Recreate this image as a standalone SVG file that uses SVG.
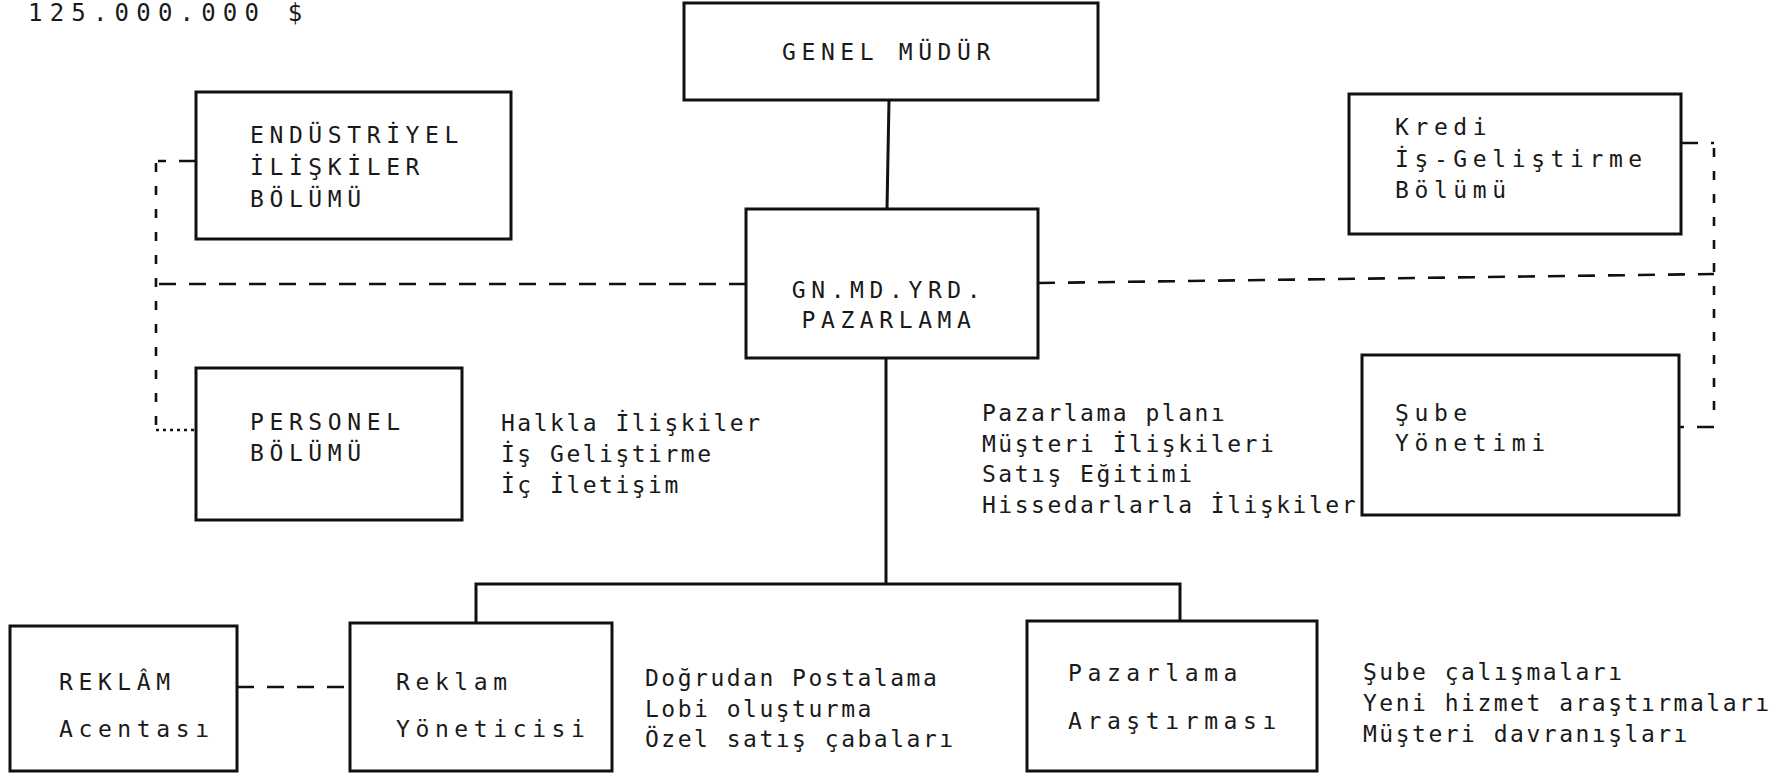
<svg xmlns="http://www.w3.org/2000/svg" width="1784" height="774" viewBox="0 0 1784 774">
<style>
  .box { fill: #ffffff; stroke: #111111; stroke-width: 3; }
  .lbl { font-family: "DejaVu Sans Mono", "Liberation Mono", monospace; font-size: 23px; letter-spacing: 5.6px; fill: #1a1a1a; }
  .note { font-family: "DejaVu Sans Mono", "Liberation Mono", monospace; font-size: 23px; letter-spacing: 2.5px; fill: #1a1a1a; }
  .title { font-family: "DejaVu Sans Mono", "Liberation Mono", monospace; font-size: 24px; letter-spacing: 7.2px; fill: #1a1a1a; }
  .solid { fill: none; stroke: #111111; stroke-width: 3; }
  .dash { fill: none; stroke: #111111; stroke-width: 2.6; stroke-dasharray: 17 13; }
  .vdash { fill: none; stroke: #111111; stroke-width: 2.6; stroke-dasharray: 9 14; }
  .dot { fill: none; stroke: #111111; stroke-width: 2.6; stroke-dasharray: 3 4; }
</style>
<rect width="1784" height="774" fill="#ffffff"/>

<text class="title" x="28" y="21">125.000.000 $</text>

<g id="connectors">
  <path class="solid" d="M889,100 L887,209"/>
  <path class="solid" d="M886,358 V584"/>
  <path class="solid" d="M476,623 V584 H1180 V621"/>
  <path class="dash" d="M746,284 H156"/>
  <path class="dash" d="M196,161 H158"/>
  <path class="vdash" d="M156,163 V428"/>
  <path class="dot" d="M156,430 H196"/>
  <path class="dash" d="M1038,283 L1714,274"/>
  <path class="dash" d="M1681,143 H1714"/>
  <path class="vdash" d="M1714,148 V424"/>
  <path class="dash" d="M1714,427 H1679"/>
  <path class="dash" d="M237,687 H350"/>
</g>

<g id="genel-mudur">
  <rect class="box" x="684" y="3" width="414" height="97"/>
  <text class="lbl" x="889" y="60" text-anchor="middle">GENEL MÜDÜR</text>
</g>

<g id="gn-md-yrd">
  <rect class="box" x="746" y="209" width="292" height="149"/>
  <text class="lbl" x="889" y="298" text-anchor="middle">GN.MD.YRD.</text>
  <text class="lbl" x="889" y="328" text-anchor="middle">PAZARLAMA</text>
</g>

<g id="endustriyel">
  <rect class="box" x="196" y="92" width="315" height="147"/>
  <text class="lbl" x="250" y="143">ENDÜSTRİYEL</text>
  <text class="lbl" x="250" y="175">İLİŞKİLER</text>
  <text class="lbl" x="250" y="207">BÖLÜMÜ</text>
</g>

<g id="personel">
  <rect class="box" x="196" y="368" width="266" height="152"/>
  <text class="lbl" x="250" y="430">PERSONEL</text>
  <text class="lbl" x="250" y="461">BÖLÜMÜ</text>
</g>

<g id="halkla-notes">
  <text class="note" x="501" y="431">Halkla İlişkiler</text>
  <text class="note" x="501" y="462">İş Geliştirme</text>
  <text class="note" x="501" y="493">İç İletişim</text>
</g>

<g id="kredi">
  <rect class="box" x="1349" y="94" width="332" height="140"/>
  <text class="lbl" x="1395" y="135">Kredi</text>
  <text class="lbl" x="1395" y="167">İş-Geliştirme</text>
  <text class="lbl" x="1395" y="198">Bölümü</text>
</g>

<g id="sube-yonetimi">
  <rect class="box" x="1362" y="355" width="317" height="160"/>
  <text class="lbl" x="1395" y="421">Şube</text>
  <text class="lbl" x="1395" y="451">Yönetimi</text>
</g>

<g id="pazarlama-notes">
  <text class="note" x="982" y="421">Pazarlama planı</text>
  <text class="note" x="982" y="452">Müşteri İlişkileri</text>
  <text class="note" x="982" y="482">Satış Eğitimi</text>
  <text class="note" x="982" y="513">Hissedarlarla İlişkiler</text>
</g>

<g id="reklam-acentasi">
  <rect class="box" x="10" y="626" width="227" height="145"/>
  <text class="lbl" x="59" y="690">REKLÂM</text>
  <text class="lbl" x="59" y="737">Acentası</text>
</g>

<g id="reklam-yoneticisi">
  <rect class="box" x="350" y="623" width="262" height="148"/>
  <text class="lbl" x="396" y="690">Reklam</text>
  <text class="lbl" x="396" y="737">Yöneticisi</text>
</g>

<g id="reklam-notes">
  <text class="note" x="645" y="686">Doğrudan Postalama</text>
  <text class="note" x="645" y="717">Lobi oluşturma</text>
  <text class="note" x="645" y="747">Özel satış çabaları</text>
</g>

<g id="pazarlama-arastirmasi">
  <rect class="box" x="1027" y="621" width="290" height="150"/>
  <text class="lbl" x="1068" y="681">Pazarlama</text>
  <text class="lbl" x="1068" y="729">Araştırması</text>
</g>

<g id="arastirma-notes">
  <text class="note" x="1363" y="680">Şube çalışmaları</text>
  <text class="note" x="1363" y="711">Yeni hizmet araştırmaları</text>
  <text class="note" x="1363" y="742">Müşteri davranışları</text>
</g>
</svg>
